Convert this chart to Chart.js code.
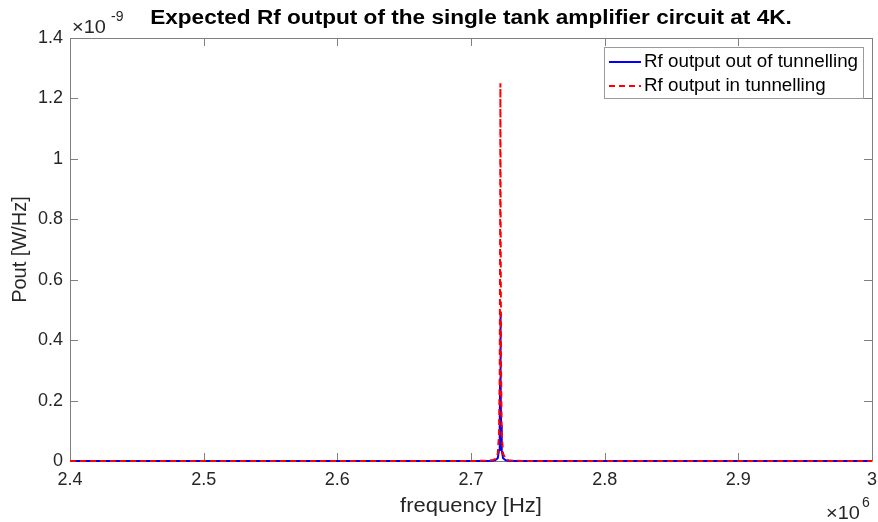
<!DOCTYPE html>
<html>
<head>
<meta charset="utf-8">
<script src="https://cdn.jsdelivr.net/npm/chart.js@4.4.1/dist/chart.umd.min.js"></script>
<style>
  html, body { margin: 0; padding: 0; background: #fff; }
  #wrap { width: 878px; height: 522px; position: relative; }
</style>
</head>
<body>
<div id="wrap"><canvas id="chart"></canvas></div>
<script>
// frequency in units of 1e6 Hz, power in units of 1e-9 W/Hz
const freqMHz = [2.4, 2.6, 2.7, 2.71, 2.716, 2.718, 2.72, 2.721, 2.7215, 2.72175, 2.722, 2.72225, 2.7225, 2.723, 2.724, 2.726, 2.728, 2.732, 2.74, 2.8, 3.0];
const poutOut = [0, 0.000004, 0.00008, 0.00027, 0.0011, 0.0024, 0.0094, 0.036, 0.118, 0.27, 0.49, 0.27, 0.118, 0.036, 0.0094, 0.0024, 0.0011, 0.0004, 0.0001, 0.000008, 0];
const poutIn  = [0, 0.00001, 0.0002, 0.0007, 0.0027, 0.006, 0.024, 0.091, 0.30, 0.69, 1.25, 0.69, 0.30, 0.091, 0.024, 0.006, 0.0027, 0.001, 0.0003, 0.00002, 0];
const seriesNames = ['Rf output out of tunnelling', 'Rf output in tunnelling'];
const xTicks = [2.4, 2.5, 2.6, 2.7, 2.8, 2.9, 3];
const yTicks = [0, 0.2, 0.4, 0.6, 0.8, 1, 1.2, 1.4];

const FONT = "'Liberation Sans', Arial, Helvetica, sans-serif";
const TXT = '#262626';
const AXC = '#808080';

const toPts = (ys) => freqMHz.map((f, i) => ({ x: f, y: ys[i] }));

// text drawn a bit wider, the way the exported figure looks
function wideText(ctx, txt, x, y, sx) {
    ctx.save();
    ctx.translate(x, y);
    ctx.scale(sx, 1);
    ctx.fillText(txt, 0, 0);
    ctx.restore();
}

// box, inward ticks, titles, exponent labels and legend like MATLAB
const matlabDecor = {
    id: 'matlabDecor',
    beforeDatasetsDraw(chart) {
        const ctx = chart.ctx;
        const a = chart.chartArea;
        const xs = chart.scales.x, ys = chart.scales.y;
        ctx.save();
        ctx.strokeStyle = AXC;
        ctx.lineWidth = 1;
        ctx.beginPath();
        ctx.moveTo(a.left + 0.5, a.bottom + 0.5);
        ctx.lineTo(a.left + 0.5, a.top + 0.5);
        ctx.lineTo(a.right + 0.5, a.top + 0.5);
        ctx.lineTo(a.right + 0.5, a.bottom + 0.5);
        ctx.closePath();
        ctx.stroke();
        const tl = 8;
        ctx.beginPath();
        xTicks.forEach(v => {
            const px = Math.round(xs.getPixelForValue(v)) + 0.5;
            ctx.moveTo(px, a.bottom); ctx.lineTo(px, a.bottom - tl);
            ctx.moveTo(px, a.top); ctx.lineTo(px, a.top + tl);
        });
        yTicks.forEach(v => {
            const py = Math.round(ys.getPixelForValue(v)) + 0.5;
            ctx.moveTo(a.left, py); ctx.lineTo(a.left + tl, py);
            ctx.moveTo(a.right, py); ctx.lineTo(a.right - tl, py);
        });
        ctx.stroke();
        ctx.restore();
    },
    afterDraw(chart) {
        const ctx = chart.ctx;
        const a = chart.chartArea;
        ctx.save();
        ctx.fillStyle = '#000';
        ctx.textAlign = 'center';
        ctx.textBaseline = 'middle';
        ctx.font = 'bold 20px ' + FONT;
        wideText(ctx, 'Expected Rf output of the single tank amplifier circuit at 4K.', (a.left + a.right) / 2, 18, 1.13);

        ctx.fillStyle = TXT;
        ctx.font = '20px ' + FONT;
        wideText(ctx, 'frequency [Hz]', (a.left + a.right) / 2, 506, 1.1);
        ctx.save();
        ctx.translate(20, (a.top + a.bottom) / 2);
        ctx.rotate(-Math.PI / 2);
        ctx.fillText('Pout [W/Hz]', 0, 0);
        ctx.restore();

        // exponent labels
        ctx.textAlign = 'left';
        ctx.font = '19px ' + FONT;
        wideText(ctx, '\u00d710', 72, 28, 1.05);
        ctx.font = '14px ' + FONT;
        ctx.fillText('-9', 111, 17);
        ctx.font = '19px ' + FONT;
        wideText(ctx, '\u00d710', 826, 514, 1.05);
        ctx.font = '14px ' + FONT;
        ctx.fillText('6', 862, 503);

        // legend
        const lx = 604, ly = 47, lw = 259, lh = 51;
        ctx.fillStyle = '#fff';
        ctx.fillRect(lx, ly, lw, lh);
        ctx.strokeStyle = '#9a9a9a';
        ctx.lineWidth = 1;
        ctx.strokeRect(lx + 0.5, ly + 0.5, lw, lh);
        const rows = [
            { y: 62, color: '#0000ff', dash: [] },
            { y: 86, color: '#ff0000', dash: [6, 4] }
        ];
        rows.forEach((r, i) => {
            ctx.strokeStyle = r.color;
            ctx.lineWidth = 2;
            ctx.setLineDash(r.dash);
            ctx.beginPath();
            ctx.moveTo(609, r.y); ctx.lineTo(641, r.y);
            ctx.stroke();
            ctx.setLineDash([]);
            ctx.fillStyle = '#000';
            ctx.font = '18.8px ' + FONT;
            ctx.textBaseline = 'middle';
            ctx.fillText(seriesNames[i], 644, r.y);
        });
        ctx.restore();
    }
};

new Chart(document.getElementById('chart'), {
    type: 'line',
    data: {
        datasets: [
            {
                label: seriesNames[0],
                data: toPts(poutOut),
                borderColor: '#0000ff',
                borderWidth: 2,
                pointRadius: 0,
                tension: 0,
                clip: 3,
                order: 1
            },
            {
                // drawn on top of the blue curve, as in the figure
                label: seriesNames[1],
                data: toPts(poutIn),
                borderColor: '#ff0000',
                borderWidth: 2,
                borderDash: [6, 4],
                pointRadius: 0,
                tension: 0,
                clip: 3,
                order: 0
            }
        ]
    },
    options: {
        responsive: true,
        maintainAspectRatio: false,
        animation: false,
        layout: { padding: { left: 0, right: 6, top: 38, bottom: 0 } },
        plugins: {
            legend: { display: false },
            tooltip: { enabled: false }
        },
        scales: {
            x: {
                type: 'linear',
                min: 2.4,
                max: 3,
                grid: { display: false, drawTicks: false },
                border: { display: false },
                afterBuildTicks: (s) => { s.ticks = xTicks.map(v => ({ value: v })); },
                afterFit: (s) => { s.height = 61; s.paddingLeft = 0; s.paddingRight = 0; },
                ticks: {
                    color: TXT,
                    font: { family: FONT, size: 18 },
                    padding: 8,
                    maxRotation: 0,
                    callback: (v) => String(v)
                }
            },
            y: {
                min: 0,
                max: 1.4,
                grid: { display: false, drawTicks: false },
                border: { display: false },
                afterBuildTicks: (s) => { s.ticks = yTicks.map(v => ({ value: v })); },
                afterFit: (s) => { s.width = 70; s.paddingTop = 0; s.paddingBottom = 0; },
                ticks: {
                    color: TXT,
                    font: { family: FONT, size: 18 },
                    padding: 7,
                    callback: (v) => String(v)
                }
            }
        }
    },
    plugins: [matlabDecor]
});
</script>
</body>
</html>
